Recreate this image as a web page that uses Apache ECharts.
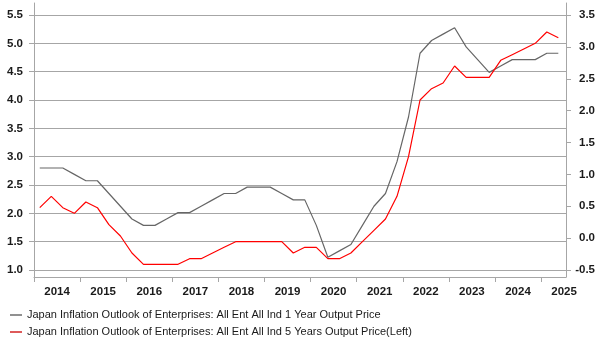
<!DOCTYPE html>
<html>
<head>
<meta charset="utf-8">
<script src="https://cdn.jsdelivr.net/npm/echarts@6/dist/echarts.min.js"></script>
<style>
  html, body { margin: 0; padding: 0; background: #fff; }
  #chart { width: 603px; height: 352px; }
</style>
</head>
<body>
<div id="chart"></div>
<script>
// quarterly survey points (plotted mid-month)
const quarters = [
  '2014-02', '2014-05', '2014-08', '2014-11',
  '2015-02', '2015-05', '2015-08', '2015-11',
  '2016-02', '2016-05', '2016-08', '2016-11',
  '2017-02', '2017-05', '2017-08', '2017-11',
  '2018-02', '2018-05', '2018-08', '2018-11',
  '2019-02', '2019-05', '2019-08', '2019-11',
  '2020-02', '2020-05', '2020-08', '2020-11',
  '2021-02', '2021-05', '2021-08', '2021-11',
  '2022-02', '2022-05', '2022-08', '2022-11',
  '2023-02', '2023-05', '2023-08', '2023-11',
  '2024-02', '2024-05', '2024-08', '2024-11',
  '2025-02', '2025-05'
]
// 1 year output price (right axis)
const oneYear = [
  1.1, 1.1, 1.1, 1.0,
  0.9, 0.9, 0.7, 0.5,
  0.3, 0.2, 0.2, 0.3,
  0.4, 0.4, 0.5, 0.6,
  0.7, 0.7, 0.8, 0.8,
  0.8, 0.7, 0.6, 0.6,
  0.2, -0.3, -0.2, -0.1,
  0.2, 0.5, 0.7, 1.2,
  1.9, 2.9, 3.1, 3.2,
  3.3, 3.0, 2.8, 2.6,
  2.7, 2.8, 2.8, 2.8,
  2.9, 2.9
]
// 5 years output price (left axis)
const fiveYears = [
  2.1, 2.3, 2.1, 2.0,
  2.2, 2.1, 1.8, 1.6,
  1.3, 1.1, 1.1, 1.1,
  1.1, 1.2, 1.2, 1.3,
  1.4, 1.5, 1.5, 1.5,
  1.5, 1.5, 1.3, 1.4,
  1.4, 1.2, 1.2, 1.3,
  1.5, 1.7, 1.9, 2.3,
  3.0, 4.0, 4.2, 4.3,
  4.6, 4.4, 4.4, 4.4,
  4.7, 4.8, 4.9, 5.0,
  5.2, 5.1
]
const seriesNames = [
  'Japan Inflation Outlook of Enterprises: All Ent All Ind 1 Year Output Price',
  'Japan Inflation Outlook of Enterprises: All Ent All Ind 5 Years Output Price(Left)'
]

// half-month slots from 2014-01-01 to 2025-07-16
const slots = []
for (let y = 2014; y <= 2025; y++) {
  for (let m = 1; m <= 12; m++) {
    const mm = String(m).padStart(2, '0')
    slots.push(`${y}-${mm}-01`, `${y}-${mm}-16`)
    if (y === 2025 && m === 7) break
  }
}

const font = "'Liberation Sans', Arial, sans-serif"
const gridColor = '#a6a6a6'
const textColor = '#1a1a1a'

const chart = echarts.init(document.getElementById('chart'))

chart.setOption({
  animation: false,
  textStyle: { fontFamily: font },
  grid: [
    { left: 34, right: 37, top: 15, bottom: 82 },
    { left: 34, right: 37, top: 3, bottom: 75 }
  ],
  legend: {
    orient: 'vertical',
    left: 10,
    top: 309,
    padding: 0,
    icon: 'rect',
    itemWidth: 12,
    itemHeight: 1.3,
    itemGap: 5,
    textStyle: { fontSize: 11, lineHeight: 12, color: textColor, fontFamily: font },
    data: [
      { name: seriesNames[0], itemStyle: { color: '#555555' } },
      { name: seriesNames[1], itemStyle: { color: '#cc0000' } }
    ]
  },
  xAxis: [
    { gridIndex: 0, type: 'category', data: slots, boundaryGap: false, show: false },
    {
      gridIndex: 1,
      type: 'category',
      data: slots,
      boundaryGap: false,
      axisLine: { onZero: false, lineStyle: { color: gridColor } },
      axisTick: { length: 5, interval: (i) => i % 24 === 0, lineStyle: { color: gridColor } },
      axisLabel: {
        interval: (i) => i % 24 === 12,
        formatter: (v) => v.slice(0, 4),
        margin: 9,
        fontSize: 11.5,
        color: textColor,
        fontWeight: 'bold'
      },
      splitLine: { show: false }
    }
  ],
  yAxis: [
    {
      gridIndex: 0,
      type: 'value',
      position: 'left',
      min: 1,
      max: 5.5,
      interval: 0.5,
      axisLine: { show: false },
      axisTick: { show: true, length: 5, lineStyle: { color: gridColor } },
      axisLabel: { formatter: (v) => v.toFixed(1), margin: 11, fontSize: 11.5, color: textColor, fontWeight: 'bold' },
      splitLine: { lineStyle: { color: gridColor } }
    },
    {
      gridIndex: 0,
      type: 'value',
      position: 'right',
      min: -0.5,
      max: 3.5,
      interval: 0.5,
      axisLine: { show: false },
      axisTick: { show: true, length: 5, lineStyle: { color: gridColor } },
      axisLabel: { formatter: (v) => v.toFixed(1), margin: 29, align: 'right', fontSize: 11.5, color: textColor, fontWeight: 'bold' },
      splitLine: { show: false }
    },
    {
      gridIndex: 1,
      type: 'value',
      position: 'left',
      min: 0,
      max: 1,
      axisLine: { show: true, lineStyle: { color: gridColor } },
      axisTick: { show: false },
      axisLabel: { show: false },
      splitLine: { show: false }
    },
    {
      gridIndex: 1,
      type: 'value',
      position: 'right',
      min: 0,
      max: 1,
      axisLine: { show: true, lineStyle: { color: gridColor } },
      axisTick: { show: false },
      axisLabel: { show: false },
      splitLine: { show: false }
    }
  ],
  series: [
    {
      name: seriesNames[0],
      type: 'line',
      xAxisIndex: 0,
      yAxisIndex: 1,
      symbol: 'none',
      color: '#666666',
      lineStyle: { width: 1.2, color: '#666666' },
      data: quarters.map((q, i) => [q + '-16', oneYear[i]])
    },
    {
      name: seriesNames[1],
      type: 'line',
      xAxisIndex: 0,
      yAxisIndex: 0,
      symbol: 'none',
      color: '#ff0000',
      lineStyle: { width: 1.2, color: '#ff0000' },
      data: quarters.map((q, i) => [q + '-16', fiveYears[i]])
    }
  ]
})
</script>
</body>
</html>
